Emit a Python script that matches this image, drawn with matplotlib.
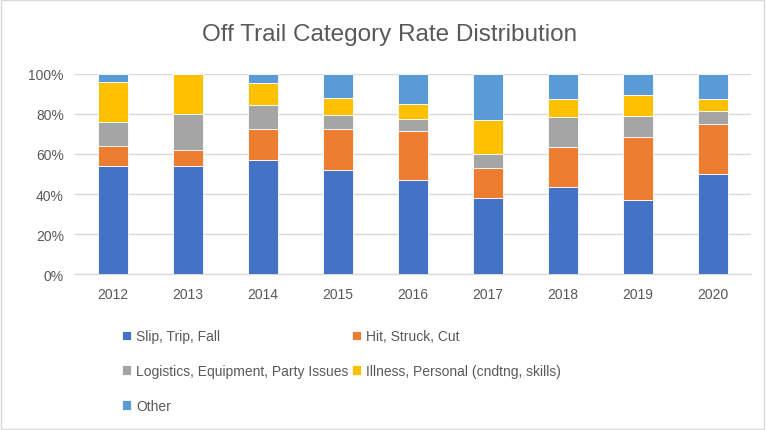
import matplotlib.pyplot as plt
import numpy as np
from matplotlib.ticker import PercentFormatter
from matplotlib.patches import Rectangle

plt.rcParams['font.family'] = ['Liberation Sans', 'DejaVu Sans']

years = ['2012', '2013', '2014', '2015', '2016', '2017', '2018', '2019', '2020']

# shares in percent
slip_trip_fall = [54, 54, 57, 52, 47, 38, 43.5, 37, 50]
hit_struck_cut = [10, 8, 15.5, 20.5, 24.5, 15, 20, 31.5, 25]
logistics = [12, 18, 12, 7, 6, 7, 15, 10.5, 6.5]
illness = [20, 20, 11, 8.5, 7.5, 17, 9, 10.5, 6]
other = [4, 0, 4.5, 12, 15, 23, 12.5, 10.5, 12.5]

series = [
    ('Slip, Trip, Fall', slip_trip_fall, '#4472C4'),
    ('Hit, Struck, Cut', hit_struck_cut, '#ED7D31'),
    ('Logistics, Equipment, Party Issues', logistics, '#A5A5A5'),
    ('Illness, Personal (cndtng, skills)', illness, '#FFC000'),
    ('Other', other, '#5B9BD5'),
]

text_color = '#595959'
grid_color = '#D9D9D9'

fig = plt.figure(figsize=(7.66, 4.31), dpi=100)
ax = fig.add_axes([0.098, 0.361, 0.882, 0.466])

x = np.arange(len(years))
bottom = np.zeros(len(years))
handles = []
for label, values, color in series:
    vals = np.array(values, dtype=float)
    bars = ax.bar(x, vals, 0.4, bottom=bottom, color=color, label=label,
                  edgecolor='white', linewidth=0.6, zorder=3)
    handles.append(bars)
    bottom += vals

ax.set_xlim(-0.5, len(years) - 0.5)
ax.set_ylim(0, 100)
ax.set_yticks(np.arange(0, 101, 20))
ax.yaxis.set_major_formatter(PercentFormatter(decimals=0))
ax.set_xticks(x)
ax.set_xticklabels(years)
ax.grid(axis='y', color=grid_color, linewidth=1, zorder=0)
for side in ['top', 'right', 'left']:
    ax.spines[side].set_visible(False)
ax.spines['bottom'].set_color(grid_color)
ax.spines['bottom'].set_linewidth(1)
ax.tick_params(length=0, labelsize=10, colors=text_color)
ax.tick_params(axis='x', pad=9)
ax.tick_params(axis='y', pad=8)

fig.suptitle('Off Trail Category Rate Distribution', x=0.508, y=0.919, va='center',
             fontsize=17.5, color=text_color)

# legend fills row by row in the reference, matplotlib fills column by column
legend_order = [0, 2, 4, 1, 3]
fig.legend(handles=[handles[i] for i in legend_order], loc='upper left',
           bbox_to_anchor=(0.152, 0.247), ncol=2, frameon=False, fontsize=10,
           labelcolor=text_color, handlelength=0.65, handleheight=0.65,
           handletextpad=0.35, columnspacing=0.3, labelspacing=1.5, borderaxespad=0)

fig.patches.append(Rectangle((0.001, 0.002), 0.997, 0.996, transform=fig.transFigure,
                             fill=False, edgecolor='#D9D9D9', linewidth=1))

fig.savefig('out.png', dpi=100)
